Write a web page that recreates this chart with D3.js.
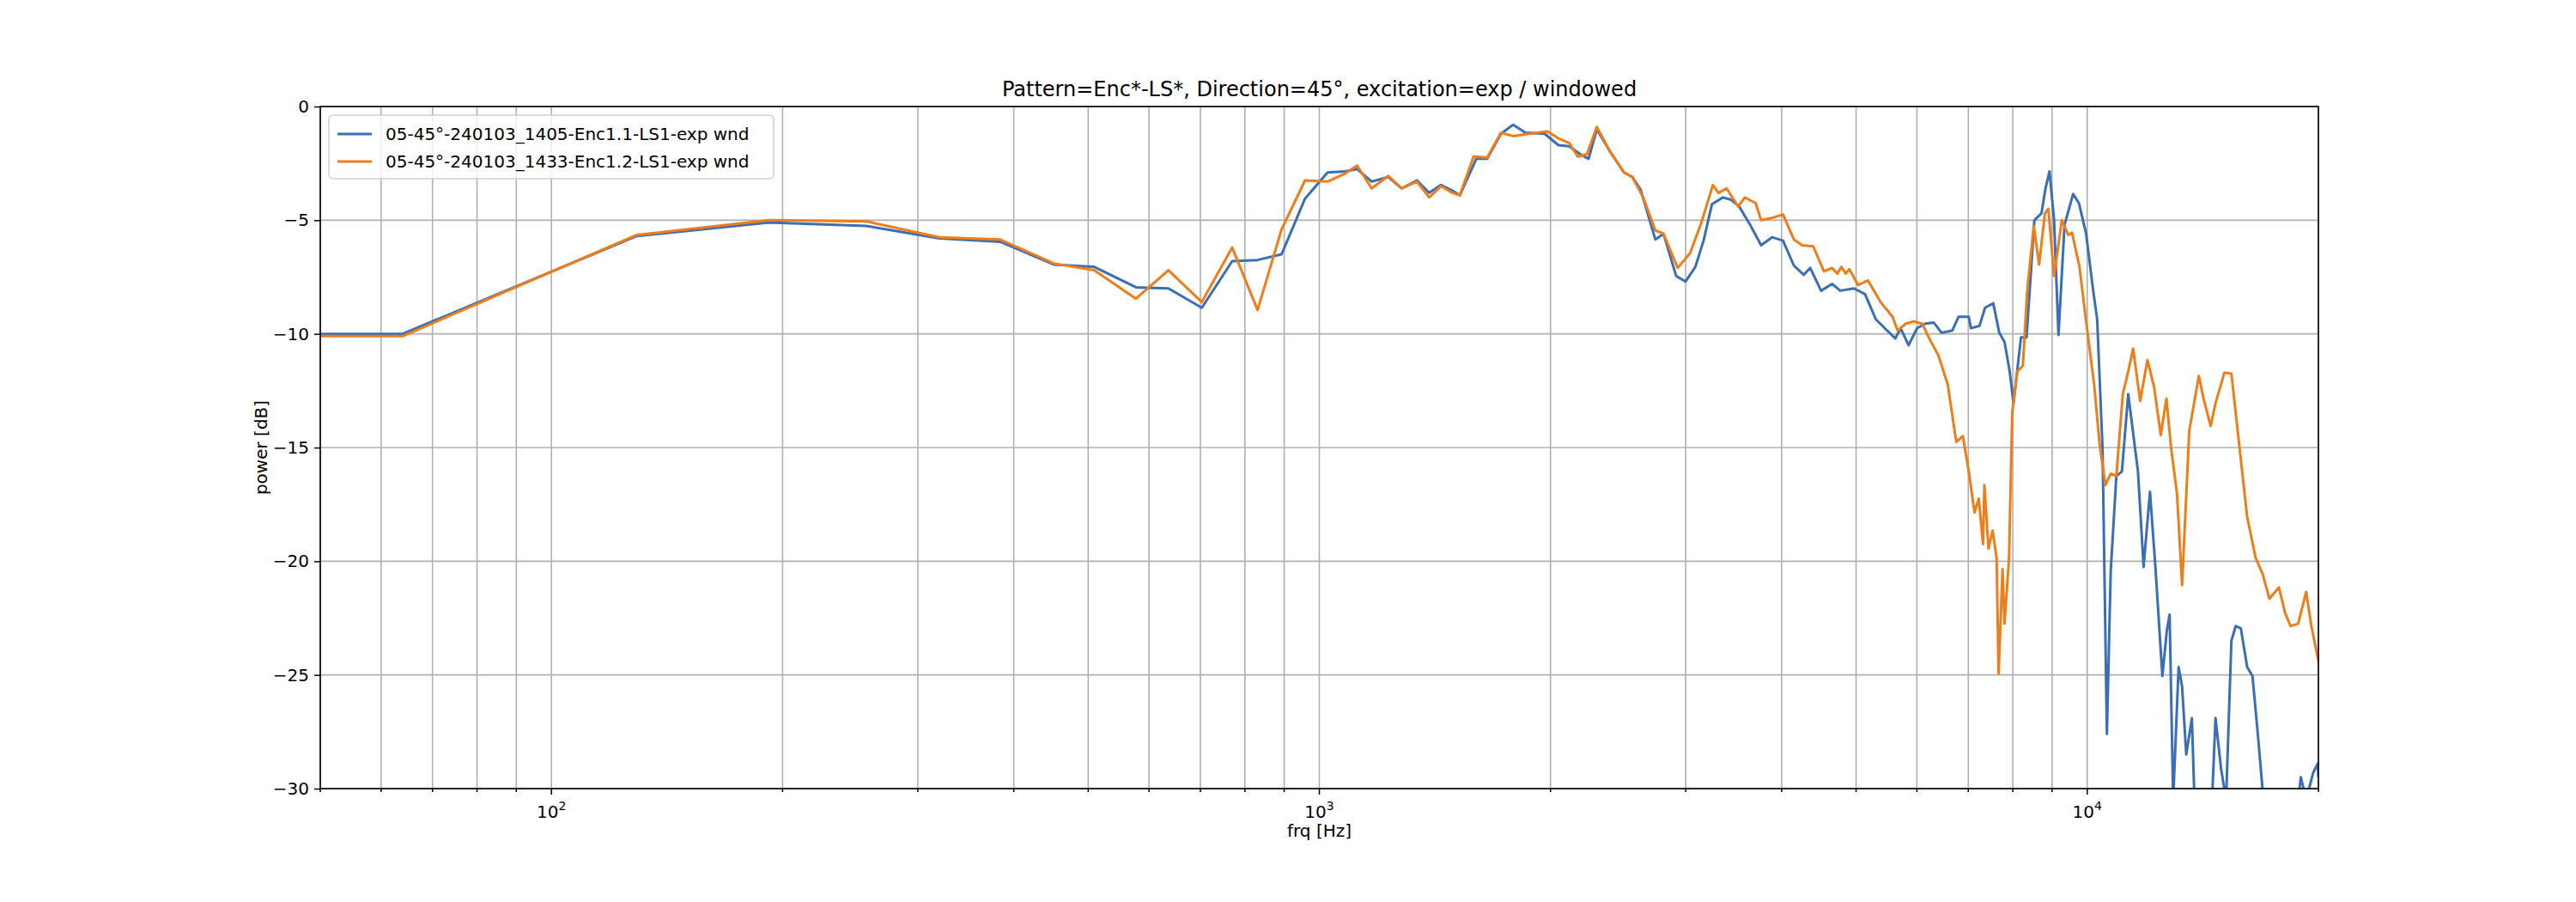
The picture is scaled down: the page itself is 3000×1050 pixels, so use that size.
<!DOCTYPE html>
<html><head><meta charset="utf-8">
<script src="https://cdn.jsdelivr.net/npm/d3@7"></script>
<style>body{margin:0;background:#fff}text{font-family:"DejaVu Sans",sans-serif}</style>
</head><body><svg id="chart"></svg>
<script>
// data
const titleText = 'Pattern=Enc*-LS*, Direction=45°, excitation=exp / windowed';
const seriesNames = ['05-45°-240103_1405-Enc1.1-LS1-exp wnd', '05-45°-240103_1433-Enc1.2-LS1-exp wnd'];
const seriesColors = ['#3a6eb5', '#ee7d1a'];
const yTicks = [0, -5, -10, -15, -20, -25, -30];

const blueFrq = [50,64,129,192,257,320,384,451,509,577,636,703,770,831,893,958,1025,1080,1120,1170,1230,1280,1340,1390,1440,1490,
  1524,1601,1654,1724,1788,1856,1966,2048,2115,2187,2242,2298,2393,2493,2556,2620,2739,2807,2915,2998,3088,3165,3245,3353,3437,3522,3639,3761,3886,4016,4150,4273,4357,4502,4653,4767,4968,5136,5303,5486,5624,5715,5852,6005,6157,6309,6462,6674,6797,7010,7056,7239,7361,7544,7681,7803,7925,8016,8199,8336,8534,8717,8824,8931,9053,9174,9342,9586,9754,9967,10180,10302,10470,10607,10729,10912,11095,11308,11643,11841,12070,12268,12527,12695,12802,12939,13152,13289,13457,13686,13792,14539,14691,14935,15164,15408,15606,15850,16154,16413,16688,16962,18821,18974,19279,19690,19964,20000];
const blueDb = [-10,-10,-5.7,-5.1,-5.25,-5.8,-5.95,-6.95,-7.05,-7.95,-8.0,-8.85,-6.8,-6.75,-6.5,-4.05,-2.9,-2.85,-2.75,-3.3,-3.1,-3.6,-3.25,-3.8,-3.45,-3.7,
  -3.9,-2.3,-2.3,-1.2,-0.8,-1.15,-1.2,-1.7,-1.75,-2.1,-2.3,-1.0,-2.0,-2.9,-3.1,-3.65,-5.85,-5.6,-7.45,-7.7,-7.05,-5.9,-4.3,-4.0,-4.1,-4.4,-5.2,-6.1,-5.75,-5.9,-7.0,-7.4,-7.1,-8.1,-7.8,-8.1,-8.0,-8.25,-9.35,-9.85,-10.2,-9.75,-10.5,-9.75,-9.55,-9.5,-9.95,-9.85,-9.25,-9.25,-9.75,-9.65,-8.85,-8.65,-9.95,-10.35,-11.65,-13.05,-10.15,-10.15,-5.0,-4.7,-3.6,-2.85,-5.0,-10.05,-5.2,-3.85,-4.25,-5.6,-8.1,-9.35,-15.05,-27.6,-20.45,-16.25,-16.05,-12.65,-16.05,-20.25,-16.95,-20.25,-25.05,-23.05,-22.35,-30.5,-24.65,-25.5,-28.5,-26.9,-30.5,-30.5,-26.9,-29.1,-30.5,-23.5,-22.85,-22.95,-24.65,-25.05,-27.7,-30.5,-30.5,-29.5,-30.5,-29.3,-28.9,-29.5];

const orangeFrq = [50,64,129,192,257,320,384,451,509,577,636,703,770,831,893,958,1025,1080,1120,1170,1230,1280,1340,1390,1440,1490,
  1524,1588,1654,1724,1788,1872,1983,2048,2115,2170,2231,2298,2393,2493,2556,2641,2739,2807,2929,3039,3141,3255,3310,3391,3511,3581,3700,3761,3886,4016,4150,4252,4397,4541,4653,4729,4784,4846,4900,5029,5182,5380,5578,5663,5806,5944,6096,6248,6401,6584,6751,6888,7010,7132,7224,7315,7346,7437,7529,7620,7666,7757,7803,7910,7986,8108,8245,8351,8519,8656,8808,8900,9053,9266,9449,9555,9769,9967,10211,10378,10561,10729,10912,11125,11308,11476,11720,11979,12222,12466,12680,12863,13091,13289,13579,13975,14173,14478,14691,15088,15408,15652,16154,16566,16916,17267,17770,18090,18395,18821,19279,19583,19964,20000];
const orangeDb = [-10.1,-10.1,-5.65,-5.0,-5.05,-5.75,-5.85,-6.9,-7.2,-8.45,-7.2,-8.6,-6.2,-8.95,-5.4,-3.25,-3.3,-2.95,-2.6,-3.6,-3.05,-3.6,-3.3,-4.0,-3.5,-3.8,
  -3.9,-2.2,-2.25,-1.15,-1.3,-1.2,-1.1,-1.4,-1.6,-2.2,-2.1,-0.9,-2.0,-2.9,-3.1,-4.0,-5.45,-5.6,-7.1,-6.45,-5.15,-3.45,-3.8,-3.6,-4.4,-4.0,-4.25,-5.0,-4.9,-4.75,-5.85,-6.1,-6.15,-7.25,-7.1,-7.35,-7.05,-7.35,-7.15,-7.85,-7.65,-8.6,-9.25,-9.85,-9.55,-9.45,-9.55,-10.3,-10.95,-12.25,-14.75,-14.5,-16.05,-17.85,-17.25,-19.25,-16.65,-19.45,-18.65,-19.85,-24.95,-20.35,-22.75,-19.85,-13.45,-11.65,-11.4,-8.15,-5.25,-6.95,-4.7,-4.5,-7.45,-5.0,-5.65,-5.55,-7.05,-9.45,-12.25,-14.85,-16.65,-16.15,-16.25,-12.65,-11.65,-10.65,-12.95,-11.15,-12.35,-14.45,-12.85,-15.05,-17.05,-21.05,-14.25,-11.85,-12.85,-14.05,-13.05,-11.7,-11.75,-13.85,-18.05,-19.85,-20.55,-21.65,-21.15,-22.25,-22.85,-22.75,-21.35,-22.85,-24.25,-24.4];

const W = 3000, H = 1050;
const margin = {top: 124, left: 373, right: 300, bottom: 132};
const width = W - margin.left - margin.right;
const height = H - margin.top - margin.bottom;

const svg = d3.select('#chart').attr('width', W).attr('height', H);
const g = svg.append('g').attr('transform', `translate(${margin.left},${margin.top})`);

const x = d3.scaleLog().domain([50, 20000]).range([0, width]);
const y = d3.scaleLinear().domain([-30, 0]).range([height, 0]);

// grid: major + minor verticals, horizontal at y ticks
const minorX = [];
for (let dec = 10; dec <= 10000; dec *= 10)
  for (let k = 1; k < 10; k++) { const v = dec * k; if (v >= 50 && v <= 20000) minorX.push(v); }
g.selectAll('.vgrid').data(minorX).enter().append('line')
  .attr('x1', d => x(d)).attr('x2', d => x(d)).attr('y1', 0).attr('y2', height)
  .attr('stroke', '#b0b0b0').attr('stroke-width', 1.6);
g.selectAll('.hgrid').data(yTicks).enter().append('line')
  .attr('x1', 0).attr('x2', width).attr('y1', d => y(d)).attr('y2', d => y(d))
  .attr('stroke', '#b0b0b0').attr('stroke-width', 1.6);

svg.append('clipPath').attr('id', 'clip').append('rect').attr('width', width).attr('height', height);

const line = d3.line().x(d => x(d[0])).y(d => y(d[1]));
const series = [d3.zip(blueFrq, blueDb), d3.zip(orangeFrq, orangeDb)];
g.append('g').attr('clip-path', 'url(#clip)').selectAll('path').data(series).enter().append('path')
  .attr('d', line).attr('fill', 'none')
  .attr('stroke', (d, i) => seriesColors[i]).attr('stroke-width', 3).attr('stroke-linejoin', 'round');

// axes
const xAxis = d3.axisBottom(x).tickValues(minorX).tickSize(0).tickFormat('');
const xa = g.append('g').attr('transform', `translate(0,${height})`);
xa.selectAll('.mt').data(minorX).enter().append('line')
  .attr('x1', d => x(d)).attr('x2', d => x(d)).attr('y1', 0)
  .attr('y2', d => [100, 1000, 10000].includes(d) ? 7 : 4).attr('stroke', '#000').attr('stroke-width', 1.5);
xa.selectAll('.lbl').data([[100, '2'], [1000, '3'], [10000, '4']]).enter().append('text')
  .attr('x', d => x(d[0])).attr('y', 34).attr('text-anchor', 'middle').attr('font-size', 20)
  .html(d => `10<tspan dy="-9" font-size="14">${d[1]}</tspan>`);

const ya = g.append('g').call(d3.axisLeft(y).tickValues(yTicks).tickSize(7).tickPadding(6));
ya.select('.domain').remove();
ya.selectAll('text').attr('font-size', 20).style('font-family', 'DejaVu Sans');
ya.selectAll('line').attr('stroke-width', 1.5);

g.append('rect').attr('width', width).attr('height', height)
  .attr('fill', 'none').attr('stroke', '#000').attr('stroke-width', 1.6);

svg.append('text').attr('x', margin.left + width / 2).attr('y', 112).attr('text-anchor', 'middle')
  .attr('font-size', 24).text(titleText);
svg.append('text').attr('x', margin.left + width / 2).attr('y', height + margin.top + 56)
  .attr('text-anchor', 'middle').attr('font-size', 20).text('frq [Hz]');
svg.append('text').attr('transform', `translate(${margin.left - 62},${margin.top + height / 2}) rotate(-90)`)
  .attr('text-anchor', 'middle').attr('font-size', 20).text('power [dB]');

// legend
const lg = g.append('g').attr('transform', 'translate(10,10)');
lg.append('rect').attr('width', 518).attr('height', 74).attr('rx', 5)
  .attr('fill', '#fff').attr('fill-opacity', 0.8).attr('stroke', '#d0d0d0').attr('stroke-width', 1.5);
seriesNames.forEach((n, i) => {
  const yy = 22 + i * 32;
  lg.append('line').attr('x1', 10).attr('x2', 50).attr('y1', yy).attr('y2', yy)
    .attr('stroke', seriesColors[i]).attr('stroke-width', 3);
  lg.append('text').attr('x', 66).attr('y', yy + 7).attr('font-size', 20).text(n);
});
</script></body></html>
